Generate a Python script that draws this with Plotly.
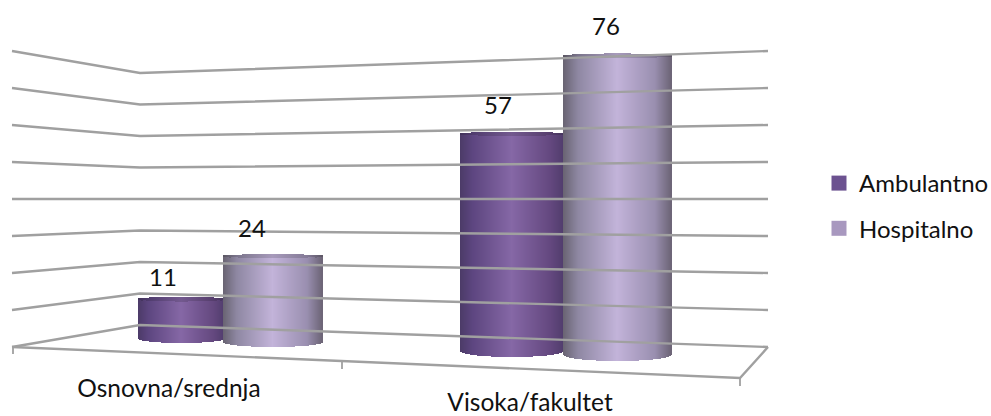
import numpy as np
import plotly.graph_objects as go

# ---- data ----
categories = ["Osnovna/srednja", "Visoka/fakultet"]
ambulantno = [11, 57]
hospitalno = [24, 76]
grid_levels = [0, 10, 20, 30, 40, 50, 60, 70, 80]

# ---- drawing geometry (image pixels, y measured downward) ----
W, H = 991, 416
FONT = "Lato, Carlito, Calibri, sans-serif"
GRID = "#a0a0a0"
TEXT = "#111111"


def Y(py):
    return H - py


# x0, x1, bottom-ellipse centre, px per unit, bottom ry, top ry, label x, label gap
GEOM = {
    "Ambulantno": [(139, 225, 338.5, 3.58, 4.5, 2.4, 163, 19), (461, 564, 351, 3.81, 6, 2.2, 498, 26)],
    "Hospitalno": [(224, 323, 342, 3.58, 5, 2.0, 252, 25), (564, 672, 354.5, 3.93, 6.5, 2.4, 606, 27)],
}
STOPS = {
    "Ambulantno": [(0, "#4c3b68"), (0.12, "#5d4680"), (0.5, "#8668a6"), (0.88, "#64487f"), (1, "#523e6e")],
    "Hospitalno": [(0, "#696472"), (0.14, "#8f88a3"), (0.5, "#c3b4da"), (0.85, "#9a8fb0"), (1, "#6d6577")],
}
LEGEND_COL = {"Ambulantno": "#6c5290", "Hospitalno": "#a898bf"}


def hex_rgb(h):
    return np.array([int(h[i:i + 2], 16) for i in (1, 3, 5)], float)


def shade(stops, t, k=1.0):
    ts = [s[0] for s in stops]
    cs = np.array([hex_rgb(s[1]) for s in stops])
    rgb = [np.interp(t, ts, cs[:, i]) * k for i in range(3)]
    return "rgb(%d,%d,%d)" % tuple(rgb)


fig = go.Figure()


def line(xs, pys, width=2.4):
    fig.add_trace(go.Scatter(x=xs, y=[Y(p) for p in pys], mode="lines", showlegend=False,
                             hoverinfo="skip", line=dict(color=GRID, width=width, simplify=False)))


# back walls: every level is projected onto the left and right wall
for lv in grid_levels:
    k = lv / 10
    line([12, 140, 768], [347 - 37 * k, 325 - 31.5 * k, 347 - 37 * k])

# floor front edge and tick marks
line([12, 740, 768], [347, 378, 347])
line([13, 13], [347, 354], 1.8)
line([342, 342], [361, 369], 1.8)
line([740, 740], [378, 386], 1.8)


def cylinder(name, i, value):
    x0, x1, base, scale, rb, rt = GEOM[name][i][:6]
    xs = np.arange(x0, x1) + 0.5
    t = (xs - x0) / (x1 - x0)
    e = np.sqrt(np.clip(1 - (2 * t - 1) ** 2, 0, 1))
    top = base - value * scale
    stops = STOPS[name]
    body_low = Y(base + rb * e)
    body_high = Y(top + rt * e)
    cap_high = Y(top - rt * e)
    fig.add_trace(go.Bar(x=xs, base=body_low, y=body_high - body_low, width=1.25,
                         marker=dict(color=[shade(stops, v) for v in t], line=dict(width=0)),
                         showlegend=False, hoverinfo="skip", name=name))
    fig.add_trace(go.Bar(x=xs, base=body_high, y=cap_high - body_high, width=1.25,
                         marker=dict(color=[shade(stops, v, 0.86) for v in t], line=dict(width=0)),
                         showlegend=False, hoverinfo="skip", name=name))
    return top


# value labels: ask each cylinder for its top, then write above it
label_x, label_y, label_t = [], [], []
for name, values in (("Ambulantno", ambulantno), ("Hospitalno", hospitalno)):
    for i, v in enumerate(values):
        top = cylinder(name, i, v)
        label_x.append(GEOM[name][i][6])
        label_y.append(Y(top - GEOM[name][i][7]))
        label_t.append(str(v))

fig.add_trace(go.Scatter(x=label_x, y=label_y, text=label_t, mode="text", showlegend=False, hoverinfo="skip",
                         textfont=dict(family=FONT, size=24, color=TEXT), cliponaxis=False))
fig.add_trace(go.Scatter(x=[169, 530], y=[Y(391), Y(405)], text=categories, mode="text", showlegend=False,
                         hoverinfo="skip", textfont=dict(family=FONT, size=24.5, color=TEXT), cliponaxis=False))

# legend entries
for name in ("Ambulantno", "Hospitalno"):
    fig.add_trace(go.Scatter(x=[None], y=[None], mode="markers", name=name, legendgroup=name,
                             marker=dict(symbol="square", size=15, color=LEGEND_COL[name])))

fig.update_layout(
    width=W, height=H, autosize=False,
    margin=dict(l=0, r=0, t=0, b=0, autoexpand=False),
    paper_bgcolor="white", plot_bgcolor="white",
    barmode="overlay", bargap=0,
    xaxis=dict(range=[0, W], visible=False, fixedrange=True),
    yaxis=dict(range=[0, H], visible=False, fixedrange=True),
    legend=dict(x=819 / W, y=1 - 161 / H, xanchor="left", yanchor="top",
                bgcolor="rgba(0,0,0,0)", traceorder="grouped", tracegroupgap=11, itemclick=False,
                font=dict(family=FONT, size=24, color=TEXT)),
)

fig.write_html("out.html", post_script="document.body.style.margin='0';document.body.style.overflow='hidden';",
               config=dict(displayModeBar=False))
